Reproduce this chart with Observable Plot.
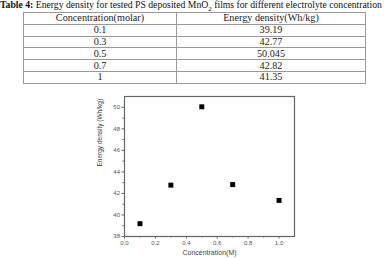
<!DOCTYPE html>
<html><head><meta charset="utf-8">
<script src="https://cdn.jsdelivr.net/npm/d3@7"></script>
<script src="https://cdn.jsdelivr.net/npm/@observablehq/plot@0.6"></script>
<style>
html,body{margin:0;padding:0;background:#fff;}
#wrap{position:relative;width:388px;height:258px;overflow:hidden;}
#title{position:absolute;left:0px;top:0px;font-family:"Liberation Serif",serif;font-size:9.7px;white-space:nowrap;line-height:10px;color:#111;}
#tbl{position:absolute;left:23px;top:12px;border-collapse:collapse;font-family:"Liberation Serif",serif;font-size:10.2px;color:#222;table-layout:fixed;}
#tbl td{border:1px solid #999;padding:0;height:10.8px;line-height:10px;text-align:center;}
#chart{position:absolute;left:0;top:88px;}
</style></head>
<body>
<div id="wrap">
  <div id="title"></div>
  <table id="tbl"><colgroup><col style="width:153px"><col style="width:189px"></colgroup><tbody></tbody></table>
  <div id="chart"></div>
</div>
<script>
const titleBold = "Table 4:";
const titleText = " Energy density for tested PS deposited MnO";
const titleSub = "2";
const titleEnd = " films for different electrolyte concentration";
const headers = ["Concentration(molar)", "Energy density(Wh/kg)"];
const concLabels = ["0.1", "0.3", "0.5", "0.7", "1"];
const energyLabels = ["39.19", "42.77", "50.045", "42.82", "41.35"];
const concentrations = [0.1, 0.3, 0.5, 0.7, 1.0];
const energy = [39.19, 42.77, 50.045, 42.82, 41.35];
const xTicks = [0, 0.2, 0.4, 0.6, 0.8, 1.0];
const xMinor = [0.1, 0.3, 0.5, 0.7, 0.9];
const yTicks = [38, 40, 42, 44, 46, 48, 50];
const yMinor = [39, 41, 43, 45, 47, 49];
const xTitle = "Concentration(M)";
const yTitle = "Energy density (Wh/kg)";

// title
const t = document.getElementById("title");
const b = document.createElement("b"); b.textContent = titleBold; t.appendChild(b);
t.appendChild(document.createTextNode(titleText));
const s = document.createElement("sub"); s.textContent = titleSub; s.style.fontSize = "7px"; s.style.lineHeight = "0"; t.appendChild(s);
t.appendChild(document.createTextNode(titleEnd));

// table
const tb = document.querySelector("#tbl tbody");
const rows = [headers, ...concLabels.map((c, i) => [c, energyLabels[i]])];
for (const r of rows) {
  const tr = document.createElement("tr");
  for (const c of r) { const td = document.createElement("td"); td.textContent = c; tr.appendChild(td); }
  tb.appendChild(tr);
}

const data = concentrations.map((c, i) => ({c, e: energy[i]}));
const plot = Plot.plot({
  width: 388, height: 170,
  marginLeft: 124, marginRight: 94, marginTop: 8, marginBottom: 22,
  x: {domain: [0, 1.1]},
  y: {domain: [38, 51]},
  style: {fontFamily: "Liberation Sans, Arial, sans-serif", fontSize: "6px", color: "#555", background: "transparent"},
  marks: [
    Plot.axisX({ticks: xMinor, tickSize: 1.5, tickFormat: () => "", label: null, stroke: "#666"}),
    Plot.axisX({ticks: xTicks, tickSize: 2.5, tickPadding: 2, tickFormat: d3.format(".1f"), label: null, stroke: "#666"}),
    Plot.axisY({ticks: yMinor, tickSize: 1.5, tickFormat: () => "", label: null, stroke: "#666"}),
    Plot.axisY({ticks: yTicks, tickSize: 2.5, tickPadding: 2, tickFormat: d3.format("d"), label: null, stroke: "#666"}),
    Plot.frame({stroke: "#666", strokeWidth: 1.2}),
    Plot.dot(data, {x: "c", y: "e", symbol: "square", r: 2.8, fill: "#000", stroke: "none"}),
    Plot.text([xTitle], {frameAnchor: "bottom", dy: 18, fontSize: 7, fill: "#444"}),
    Plot.text([yTitle], {frameAnchor: "left", dx: -25, rotate: -90, fontSize: 6.5, fill: "#444"})
  ]
});
document.getElementById("chart").appendChild(plot);
</script>
</body></html>
